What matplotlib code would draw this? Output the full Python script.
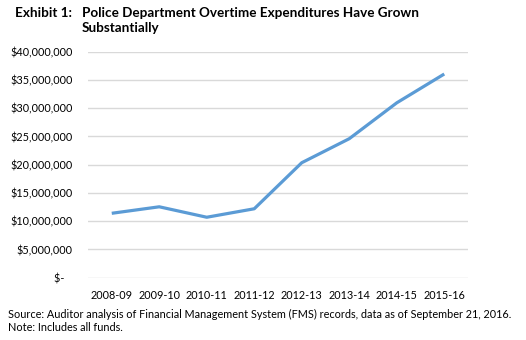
import matplotlib
matplotlib.use("Agg")
import matplotlib.pyplot as plt
from matplotlib.ticker import FuncFormatter

years = ["2008-09", "2009-10", "2010-11", "2011-12", "2012-13", "2013-14", "2014-15", "2015-16"]
overtime = [11.4e6, 12.55e6, 10.7e6, 12.2e6, 20.35e6, 24.6e6, 30.95e6, 36.05e6]
yticks = [0, 5e6, 10e6, 15e6, 20e6, 25e6, 30e6, 35e6, 40e6]

plt.rcParams['font.family'] = ['Lato', 'DejaVu Sans']

fig = plt.figure(figsize=(5.26, 3.40), dpi=100)
ax = fig.add_axes([88/526, 1-277.7/340, (468-88)/526, (277.7-51.7)/340])

x = list(range(len(years)))
ax.plot(x, overtime, color="#5B9BD5", lw=2.3, solid_capstyle="butt", zorder=3)

ax.set_xlim(-0.5, len(years)-0.5)
ax.set_ylim(0, 40e6)
ax.set_yticks(yticks)
ax.set_xticks(x)
ax.set_xticklabels(years)

def fmt(v, pos):
    if v == 0:
        return "$-   "
    return "${:,.0f}".format(v)
ax.yaxis.set_major_formatter(FuncFormatter(fmt))

ax.grid(axis="y", color="#D9D9D9", lw=1)
ax.set_axisbelow(True)
for s in ax.spines.values():
    s.set_visible(False)
ax.tick_params(axis="both", length=0, labelsize=7.8, colors="black")
ax.tick_params(axis="y", pad=11)
ax.tick_params(axis="x", pad=9)

fig.text(15/526, 1-13/340, "Exhibit 1:", fontsize=9.7, fontweight="bold", va="center", ha="left")
fig.text(82/526, 1-13/340, "Police Department Overtime Expenditures Have Grown", fontsize=9.7, fontweight="bold", va="center", ha="left")
fig.text(82/526, 1-28/340, "Substantially", fontsize=9.7, fontweight="bold", va="center", ha="left")

fig.text(8/526, 1-314.3/340, "Source: Auditor analysis of Financial Management System (FMS) records, data as of September 21, 2016.", fontsize=7.85, va="center", ha="left")
fig.text(8/526, 1-327.7/340, "Note: Includes all funds.", fontsize=7.85, va="center", ha="left")

fig.savefig("out.png", dpi=100)
